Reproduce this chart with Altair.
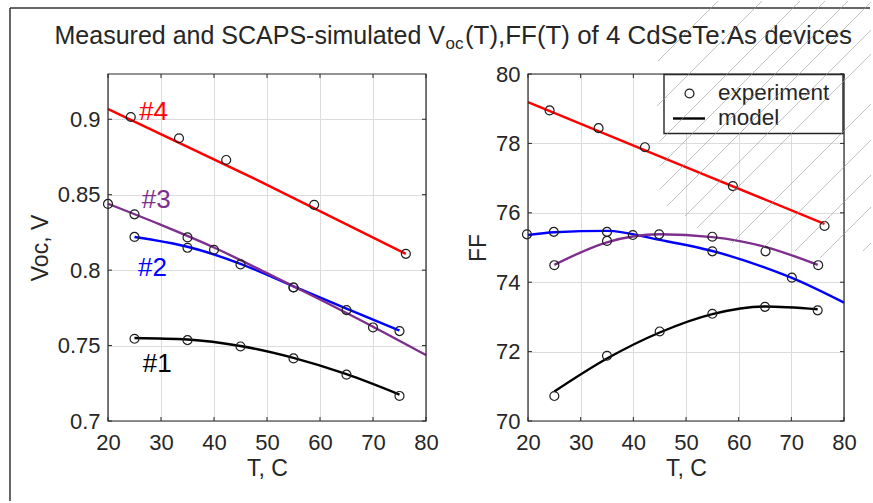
import altair as alt
import pandas as pd

# ---------------- data ----------------
devices = ["#1", "#2", "#3", "#4"]
dev_colors = ["#000000", "#0000FF", "#7E2F8E", "#FF0000"]

# Voc(T), experiment
voc_exp_T1 = [25, 35, 45, 55, 65, 75]
voc_exp_1 = [0.7545, 0.7536, 0.7494, 0.7415, 0.7307, 0.7166]
voc_exp_T2 = [25, 35, 45, 55, 65, 75]
voc_exp_2 = [0.8220, 0.8148, 0.8038, 0.7885, 0.7735, 0.7596]
voc_exp_T3 = [20, 25, 35, 40, 55, 70]
voc_exp_3 = [0.8439, 0.8370, 0.8217, 0.8135, 0.7885, 0.7620]
voc_exp_T4 = [24.3, 33.4, 42.3, 58.9, 76.2]
voc_exp_4 = [0.9015, 0.8874, 0.8730, 0.8433, 0.8108]

# Voc(T), model
voc_mod_T1 = [25, 35, 45, 55, 65, 75]
voc_mod_1 = [0.7550, 0.7540, 0.7497, 0.7418, 0.7310, 0.7175]
voc_mod_T2 = [25, 35, 45, 55, 65, 75]
voc_mod_2 = [0.8220, 0.8155, 0.8042, 0.7893, 0.7745, 0.7600]
voc_mod_T3 = [20, 30, 40, 50, 60, 70, 80]
voc_mod_3 = [0.8440, 0.8300, 0.8150, 0.7980, 0.7805, 0.7625, 0.7437]
voc_mod_T4 = [20, 48, 76.2]
voc_mod_4 = [0.9068, 0.8600, 0.8108]

# FF(T), experiment
ff_exp_T1 = [25, 35, 45, 55, 65, 75]
ff_exp_1 = [70.72, 71.88, 72.58, 73.09, 73.29, 73.19]
ff_exp_T2 = [19.8, 24.9, 35, 39.9, 55, 70.1]
ff_exp_2 = [75.38, 75.45, 75.45, 75.36, 74.89, 74.13]
ff_exp_T3 = [25, 35, 44.9, 55, 65.1, 75.1]
ff_exp_3 = [74.49, 75.19, 75.38, 75.31, 74.89, 74.49]
ff_exp_T4 = [24.1, 33.4, 42.2, 58.9, 76.3]
ff_exp_4 = [78.95, 78.44, 77.89, 76.77, 75.62]

# FF(T), model
ff_mod_T1 = [25, 35, 45, 55, 65, 75]
ff_mod_1 = [70.85, 71.80, 72.55, 73.08, 73.30, 73.22]
ff_mod_T2 = [20, 25, 35, 45, 55, 65, 70, 80]
ff_mod_2 = [75.36, 75.44, 75.48, 75.22, 74.90, 74.42, 74.13, 73.41]
ff_mod_T3 = [25, 35, 45, 55, 65, 75]
ff_mod_3 = [74.50, 75.15, 75.38, 75.30, 75.02, 74.50]
ff_mod_T4 = [20, 48, 76.3]
ff_mod_4 = [79.19, 77.44, 75.68]

# device labels in the Voc panel
label_T = [29.3, 28.4, 29.1, 28.6]
label_voc = [0.7381, 0.8017, 0.8464, 0.9046]

x_ticks = [20, 30, 40, 50, 60, 70, 80]
voc_ticks = [0.7, 0.75, 0.8, 0.85, 0.9]
ff_ticks = [70, 72, 74, 76, 78, 80]


def frame(ts, vs):
    rows = []
    for dev, t, v in zip(devices, ts, vs):
        for a, b in zip(t, v):
            rows.append({"T": a, "v": b, "dev": dev})
    return pd.DataFrame(rows)


voc_exp = frame([voc_exp_T1, voc_exp_T2, voc_exp_T3, voc_exp_T4],
                [voc_exp_1, voc_exp_2, voc_exp_3, voc_exp_4])
voc_mod = frame([voc_mod_T1, voc_mod_T2, voc_mod_T3, voc_mod_T4],
                [voc_mod_1, voc_mod_2, voc_mod_3, voc_mod_4])
ff_exp = frame([ff_exp_T1, ff_exp_T2, ff_exp_T3, ff_exp_T4],
               [ff_exp_1, ff_exp_2, ff_exp_3, ff_exp_4])
ff_mod = frame([ff_mod_T1, ff_mod_T2, ff_mod_T3, ff_mod_T4],
               [ff_mod_1, ff_mod_2, ff_mod_3, ff_mod_4])
labels = pd.DataFrame({"T": label_T, "v": label_voc, "dev": devices})
xtick_df = pd.DataFrame({"T": x_ticks})
voc_tick_df = pd.DataFrame({"v": voc_ticks})
ff_tick_df = pd.DataFrame({"v": ff_ticks})

# ---------------- styling ----------------
FONT = "Liberation Sans"
INK = "#262626"
W1, W2, H = 318, 316, 347
TICK = 4
dev_scale = alt.Scale(domain=devices, range=dev_colors)
one = alt.Data(values=[{"k": 1}])
MARK_SIZE = 80
MARK_COLOR = "#1e1e1e"

x_enc = alt.X("T:Q", scale=alt.Scale(domain=[20, 80], nice=False),
              axis=alt.Axis(values=x_ticks, title="T, C", labelFlush=False,
                            labelOverlap=False, labelPadding=11, titlePadding=4))


def panel(exp_df, mod_df, tick_df, ydom, yticks, ytitle, yfmt, w):
    y_enc = alt.Y("v:Q", scale=alt.Scale(domain=ydom, nice=False, zero=False),
                  axis=alt.Axis(values=yticks, title=ytitle, format=yfmt,
                                labelOverlap=False, labelPadding=8, titlePadding=5))
    lines = alt.Chart(mod_df).mark_line(strokeWidth=2.4, interpolate="monotone").encode(
        x=x_enc, y=y_enc, color=alt.Color("dev:N", scale=dev_scale, legend=None))
    pts = alt.Chart(exp_df).mark_point(shape="circle", filled=False, size=MARK_SIZE,
                                       color=MARK_COLOR, strokeWidth=1.2, opacity=1).encode(
        x=x_enc, y=y_enc)
    # inward tick marks on all four sides (MATLAB-style)
    xt_bot = alt.Chart(xtick_df).mark_rule(color=INK, strokeWidth=1).encode(
        x=x_enc, y=alt.value(H - TICK), y2=alt.value(H))
    xt_top = alt.Chart(xtick_df).mark_rule(color=INK, strokeWidth=1).encode(
        x=x_enc, y=alt.value(0), y2=alt.value(TICK))
    yt_l = alt.Chart(tick_df).mark_rule(color=INK, strokeWidth=1).encode(
        y=y_enc, x=alt.value(0), x2=alt.value(TICK))
    yt_r = alt.Chart(tick_df).mark_rule(color=INK, strokeWidth=1).encode(
        y=y_enc, x=alt.value(w - TICK), x2=alt.value(w))
    return [xt_bot, xt_top, yt_l, yt_r], lines, pts, y_enc


def box(w):
    return alt.Chart(one).mark_rect(fillOpacity=0, stroke=INK, strokeWidth=1.2).encode(
        x=alt.value(0), x2=alt.value(w), y=alt.value(0), y2=alt.value(H))


# left panel
l_ticks, l_lines, l_pts, l_y = panel(voc_exp, voc_mod, voc_tick_df, [0.7, 0.93],
                                     voc_ticks, "Voc, V", "~g", W1)
l_text = alt.Chart(labels).mark_text(font=FONT, fontSize=26, align="center",
                                     baseline="middle").encode(
    x=x_enc, y=l_y, text="dev:N",
    color=alt.Color("dev:N", scale=dev_scale, legend=None))

# slide frame and title (annotation, positioned in pixels)
frame_v = alt.Chart(one).mark_rule(color="#333333", strokeWidth=1.5).encode(
    x=alt.value(-98), y=alt.value(-66), y2=alt.value(427))
frame_h = alt.Chart(one).mark_rule(color="#333333", strokeWidth=1.5).encode(
    x=alt.value(-98), x2=alt.value(762), y=alt.value(-66))
title_a = alt.Chart(one).mark_text(font=FONT, fontSize=25, color=INK, align="right",
                                   baseline="alphabetic").encode(
    x=alt.value(337), y=alt.value(-30), text=alt.value("Measured and SCAPS-simulated V"))
title_b = alt.Chart(one).mark_text(font=FONT, fontSize=17, color=INK, align="left",
                                   baseline="alphabetic").encode(
    x=alt.value(337.5), y=alt.value(-25), text=alt.value("oc"))
title_c = alt.Chart(one).mark_text(font=FONT, fontSize=25.9, color=INK, align="left",
                                   baseline="alphabetic").encode(
    x=alt.value(357), y=alt.value(-30), text=alt.value("(T),FF(T) of 4 CdSeTe:As devices"))

left = alt.layer(frame_v, frame_h, title_a, title_b, title_c,
                 l_lines, l_pts, l_text, *l_ticks, box(W1)).properties(width=W1, height=H)

# right panel
r_ticks, r_lines, r_pts, r_y = panel(ff_exp, ff_mod, ff_tick_df, [70, 80],
                                     ff_ticks, "FF", "d", W2)

leg_box = alt.Chart(one).mark_rect(fill="white", stroke=INK, strokeWidth=1.4).encode(
    x=alt.value(136), x2=alt.value(315), y=alt.value(0.5), y2=alt.value(59.5))
leg_pt = alt.Chart(one).mark_point(shape="circle", filled=False, size=MARK_SIZE,
                                   color=MARK_COLOR, strokeWidth=1.2, opacity=1).encode(
    x=alt.value(161.5), y=alt.value(19.5))
leg_ln = alt.Chart(one).mark_rule(color="#000000", strokeWidth=2.4).encode(
    x=alt.value(145), x2=alt.value(177), y=alt.value(44.5))
leg_t1 = alt.Chart(one).mark_text(font=FONT, fontSize=22.5, color=INK, align="left",
                                  baseline="middle").encode(
    x=alt.value(190), y=alt.value(19), text=alt.value("experiment"))
leg_t2 = alt.Chart(one).mark_text(font=FONT, fontSize=22.5, color=INK, align="left",
                                  baseline="middle").encode(
    x=alt.value(190), y=alt.value(44), text=alt.value("model"))

# decorative diagonal hatching of the slide background (page pixel geometry)
diag_c = [718, 762, 800, 825, 848, 872, 900, 924, 974, 1010, 1045, 1077, 1113]
diag_end = [60, 105, 140, 165, 188, 205, 215, 227, 242, 247, 250, 257, 250]
diag_layers = []
for c, ye in zip(diag_c, diag_end):
    if c <= 871:
        xt, yt = c, 0
    else:
        xt, yt = 871, c - 871
    xb, yb = c - ye, ye
    diag_layers.append(
        alt.Chart(one).mark_rule(color="#9a9a9a", strokeWidth=1, opacity=0.6).encode(
            x=alt.value(xb - 528), y=alt.value(yb - 73),
            x2=alt.value(xt - 528), y2=alt.value(yt - 73)))

right = alt.layer(r_lines, r_pts, *r_ticks, leg_box, leg_pt, leg_ln, leg_t1, leg_t2,
                  box(W2), *diag_layers).properties(width=W2, height=H)

chart = alt.hconcat(left, right, spacing=102, bounds="flush").properties(
    padding={"left": 9, "top": 0, "right": 0, "bottom": 0}
).configure_view(
    stroke=None
).configure_axis(
    labelFont=FONT, labelFontSize=22, labelColor=INK,
    titleFont=FONT, titleFontSize=23, titleFontWeight="normal", titleColor=INK,
    gridColor="#dcdcdc", gridWidth=1, domain=False, ticks=False
)

chart.save("out.html", embed_options={"renderer": "svg", "actions": False})
